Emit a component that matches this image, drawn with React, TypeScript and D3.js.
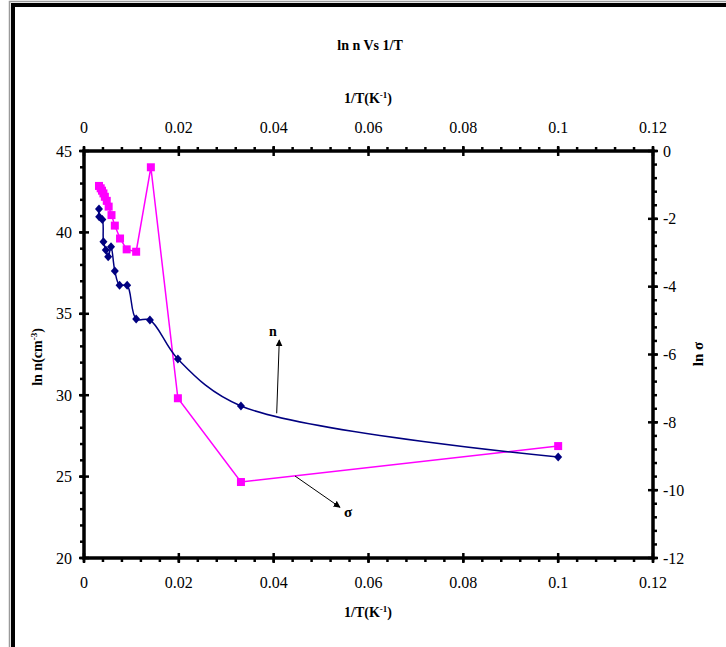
import React from "react";
import * as d3 from "d3";

// 1/T (K^-1) and ln n for the carrier concentration series
const nX = [0.00316, 0.0032, 0.00386, 0.0041, 0.0046, 0.0051, 0.0057, 0.0065, 0.0075, 0.0091, 0.011, 0.0139, 0.0198, 0.0331, 0.1];
const nY = [41.44, 40.96, 40.8, 39.43, 38.92, 38.51, 39.12, 37.63, 36.75, 36.75, 34.68, 34.62, 32.22, 29.34, 26.2];

// 1/T (K^-1) and ln sigma for the conductivity series
const sX = [0.00316, 0.00352, 0.0038, 0.0041, 0.0044, 0.0048, 0.0052, 0.0058, 0.0065, 0.0076, 0.009, 0.011, 0.0141, 0.0198, 0.0331, 0.1];
const sY = [-1.03, -1.1, -1.17, -1.25, -1.35, -1.47, -1.64, -1.89, -2.2, -2.58, -2.9, -2.97, -0.48, -7.29, -9.76, -8.7];

const xTicks = [0, 0.02, 0.04, 0.06, 0.08, 0.1, 0.12];
const leftTicks = [20, 25, 30, 35, 40, 45];
const rightTicks = [-12, -10, -8, -6, -4, -2, 0];

const W = 726;
const H = 647;
const L = 84, R = 653, T = 151, B = 558;

const serif = "'Liberation Serif', 'DejaVu Serif', serif";

export default function App() {
  const x = d3.scaleLinear().domain([0, 0.12]).range([L, R]);
  const yL = d3.scaleLinear().domain([20, 45]).range([B, T]);
  const yR = d3.scaleLinear().domain([-12, 0]).range([B, T]);

  const nPts: [number, number][] = nX.map((v, i) => [x(v), yL(nY[i])]);
  const sPts: [number, number][] = sX.map((v, i) => [x(v), yR(sY[i])]);

  const nLine = d3.line().curve(d3.curveCatmullRom.alpha(0.5))(nPts) || "";
  const sLine = d3.line()(sPts) || "";

  const xMinor = d3.range(0, 0.12 + 1e-9, 0.004);
  const lMinor = d3.range(20, 45 + 1e-9, 1);
  const rMinor = d3.range(-12, 0 + 1e-9, 0.4);

  const fmtX = (v: number) => String(+v.toFixed(2));

  return (
    <svg width={W} height={H} style={{ position: "absolute", left: 0, top: 0, background: "#fff" }}>
      <defs>
        <marker id="arrow" viewBox="0 0 10 10" refX="9" refY="5" markerWidth="7" markerHeight="7" orient="auto">
          <path d="M0,0 L10,5 L0,10 z" fill="#000" />
        </marker>
      </defs>
      <rect x={0} y={0} width={W} height={H} fill="#fff" />

      {/* chart frame */}
      <path d={`M9.5,${H} V1.5 H${W}`} fill="none" stroke="#9a9a9a" strokeWidth={1.5} />
      <path d={`M13,${H} V5 H${W}`} fill="none" stroke="#000" strokeWidth={4} />

      {/* title */}
      <text x={370} y={50} textAnchor="middle" fontFamily={serif} fontWeight="bold" fontSize={14}>ln n Vs 1/T</text>

      {/* top axis title */}
      <text x={368} y={103} textAnchor="middle" fontFamily={serif} fontWeight="bold" fontSize={14}>
        1/T(K<tspan dy={-5} fontSize={9}>-1</tspan><tspan dy={5}>)</tspan>
      </text>
      {/* bottom axis title */}
      <text x={368} y={617} textAnchor="middle" fontFamily={serif} fontWeight="bold" fontSize={14}>
        1/T(K<tspan dy={-5} fontSize={9}>-1</tspan><tspan dy={5}>)</tspan>
      </text>
      {/* left axis title */}
      <text transform={`translate(42,357) rotate(-90)`} textAnchor="middle" fontFamily={serif} fontWeight="bold" fontSize={14}>
        ln n(cm<tspan dy={-5} fontSize={9}>-3</tspan><tspan dy={5}>)</tspan>
      </text>
      {/* right axis title */}
      <text transform={`translate(703,354) rotate(-90)`} textAnchor="middle" fontFamily={serif} fontWeight="bold" fontSize={15}>
        ln σ
      </text>

      {/* minor ticks */}
      <g stroke="#000" strokeWidth={2.5}>
        {xMinor.map((v, i) => (
          <g key={"xm" + i}>
            <line x1={x(v)} x2={x(v)} y1={T} y2={T - 4} />
            <line x1={x(v)} x2={x(v)} y1={B} y2={B + 4} />
          </g>
        ))}
        {lMinor.map((v, i) => (
          <line key={"lm" + i} x1={L} x2={L - 4} y1={yL(v)} y2={yL(v)} />
        ))}
        {rMinor.map((v, i) => (
          <line key={"rm" + i} x1={R} x2={R + 4} y1={yR(v)} y2={yR(v)} />
        ))}
      </g>

      {/* major ticks */}
      <g stroke="#000" strokeWidth={2.5}>
        {xTicks.map((v) => (
          <g key={"xM" + v}>
            <line x1={x(v)} x2={x(v)} y1={T - 5} y2={T + 5} />
            <line x1={x(v)} x2={x(v)} y1={B - 5} y2={B + 5} />
          </g>
        ))}
        {leftTicks.map((v) => (
          <line key={"lM" + v} x1={L - 5} x2={L + 5} y1={yL(v)} y2={yL(v)} />
        ))}
        {rightTicks.map((v) => (
          <line key={"rM" + v} x1={R - 5} x2={R + 5} y1={yR(v)} y2={yR(v)} />
        ))}
      </g>

      {/* plot box */}
      <rect x={L} y={T} width={R - L} height={B - T} fill="none" stroke="#000" strokeWidth={3.5} />

      {/* tick labels */}
      <g fontFamily={serif} fontSize={16} fill="#000">
        {xTicks.map((v) => (
          <text key={"xt" + v} x={x(v)} y={133} textAnchor="middle">{fmtX(v)}</text>
        ))}
        {xTicks.map((v) => (
          <text key={"xb" + v} x={x(v)} y={588} textAnchor="middle">{fmtX(v)}</text>
        ))}
        {leftTicks.map((v) => (
          <text key={"lt" + v} x={72} y={yL(v) + 5.5} textAnchor="end">{String(v)}</text>
        ))}
        {rightTicks.map((v) => (
          <text key={"rt" + v} x={663} y={yR(v) + 5.5} textAnchor="start">{String(v)}</text>
        ))}
      </g>

      {/* series */}
      <path d={sLine} fill="none" stroke="#ff00ff" strokeWidth={1.5} />
      <path d={nLine} fill="none" stroke="#000080" strokeWidth={1.5} />
      {sPts.map(([px, py], i) => (
        <rect key={"s" + i} x={px - 4} y={py - 4} width={8} height={8} fill="#ff00ff" />
      ))}
      {nPts.map(([px, py], i) => (
        <path key={"n" + i} d={`M${px},${py - 4.5} L${px + 4},${py} L${px},${py + 4.5} L${px - 4},${py} Z`} fill="#000080" />
      ))}

      {/* annotations */}
      <line x1={276.7} y1={413.3} x2={279.3} y2={340} stroke="#000" strokeWidth={1} markerEnd="url(#arrow)" />
      <text x={273} y={336} textAnchor="middle" fontFamily={serif} fontWeight="bold" fontSize={14}>n</text>
      <line x1={295} y1={476} x2={340} y2={507.3} stroke="#000" strokeWidth={1} markerEnd="url(#arrow)" />
      <text x={348} y={517} textAnchor="middle" fontFamily={serif} fontWeight="bold" fontSize={15}>σ</text>
    </svg>
  );
}
